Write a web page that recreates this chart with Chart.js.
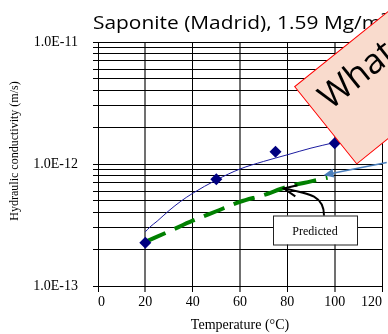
<!DOCTYPE html>
<html>
<head>
<meta charset="utf-8">
<script src="https://cdn.jsdelivr.net/npm/chart.js@4.4.1/dist/chart.umd.min.js"></script>
<style>
  html, body { margin: 0; padding: 0; background: #fff; }
  #wrap { width: 388px; height: 334px; }
</style>
</head>
<body>
<div id="wrap"><canvas id="myChart"></canvas></div>
<script>
// measured hydraulic conductivity (m/s)
const measuredTemps = [20, 50, 75, 100];
const measuredK = [2.26e-13, 7.5e-13, 1.26e-12, 1.48e-12];

// trend line through the measurements
const fitTemps = [20, 22, 25, 30, 35, 40, 50, 60, 70, 80, 90, 100];
const fitK = [2.78e-13, 3.05e-13, 3.4e-13, 4.15e-13, 4.95e-13, 5.75e-13, 7.4e-13, 9.1e-13, 1.05e-12, 1.19e-12, 1.35e-12, 1.5e-12];

// predicted curve
const predTemps = [20, 30, 40, 50, 60, 70, 80, 90, 97];
const predK = [2.3e-13, 2.8e-13, 3.43e-13, 4.1e-13, 4.9e-13, 5.57e-13, 6.5e-13, 7.2e-13, 7.72e-13];

// axes
const xTicks = [0, 20, 40, 60, 80, 100, 120];
const yDecades = [1e-13, 1e-12, 1e-11];
const yTickLabels = ['1.0E-13', '1.0E-12', '1.0E-11'];

const chartTitle = 'Saponite (Madrid), 1.59 Mg/m³';
const serif = '"Liberation Serif", "Times New Roman", serif';

const pts = (xs, ys) => xs.map((t, i) => ({ x: t, y: ys[i] }));

// text boxes and arrows drawn on top of the plot
const notesPlugin = {
    id: 'notes',
    afterDraw(chart) {
        const { ctx } = chart;
        const xs = chart.scales.x, ys = chart.scales.y;
        const px = (v) => xs.getPixelForValue(v);
        const py = (v) => ys.getPixelForValue(v);

        ctx.save();

        // chart title
        ctx.save();
        ctx.translate(93, 29);
        ctx.scale(1.1, 1);
        ctx.font = '19px "Open Sans"';
        ctx.fillStyle = '#000';
        ctx.textBaseline = 'alphabetic';
        ctx.textAlign = 'left';
        ctx.fillText(chartTitle, 0, 0);
        ctx.restore();

        // y axis title
        ctx.save();
        ctx.translate(15, 151);
        ctx.rotate(-Math.PI / 2);
        ctx.font = '12px ' + serif;
        ctx.fillStyle = '#000';
        ctx.textAlign = 'center';
        ctx.textBaseline = 'middle';
        ctx.fillText('Hydraulic conductivity (m/s)', 0, 0);
        ctx.restore();

        // "Predicted" label box
        const bx = Math.round(px(91.5)), by = Math.round(py(2.9e-13));
        const bw = 84, bh = 29;
        const left = bx - bw / 2, top = by - bh / 2;
        ctx.fillStyle = '#fff';
        ctx.fillRect(left, top, bw, bh);
        ctx.strokeStyle = '#222';
        ctx.lineWidth = 1;
        ctx.strokeRect(left + 0.5, top + 0.5, bw, bh);
        ctx.fillStyle = '#000';
        ctx.font = '12px ' + serif;
        ctx.textAlign = 'center';
        ctx.textBaseline = 'middle';
        ctx.fillText('Predicted', bx, by + 2);

        // curved black arrow from the box to the predicted line
        const sx = bx + 9, sy = top;
        const tx = px(78.5), ty = py(6.3e-13);
        const c2x = tx + 27, c2y = ty + 5;
        ctx.strokeStyle = '#000';
        ctx.lineWidth = 2;
        ctx.beginPath();
        ctx.moveTo(sx, sy);
        ctx.bezierCurveTo(sx, sy - 19, c2x, c2y, tx, ty);
        ctx.stroke();
        const ang = Math.atan2(c2y - ty, c2x - tx);
        ctx.beginPath();
        ctx.moveTo(tx + 14 * Math.cos(ang - 0.42), ty + 14 * Math.sin(ang - 0.42));
        ctx.lineTo(tx, ty);
        ctx.lineTo(tx + 14 * Math.cos(ang + 0.42), ty + 14 * Math.sin(ang + 0.42));
        ctx.stroke();

        // blue arrow coming in from the right
        const ax = px(95.3), ay = py(8.1e-13);
        const qx = px(122), qy = py(1.03e-12);
        const a2 = Math.atan2(qy - ay, qx - ax);
        ctx.strokeStyle = '#4a7ebb';
        ctx.fillStyle = '#4a7ebb';
        ctx.lineWidth = 1.5;
        ctx.beginPath();
        ctx.moveTo(qx, qy);
        ctx.lineTo(ax + 8 * Math.cos(a2), ay + 8 * Math.sin(a2));
        ctx.stroke();
        ctx.beginPath();
        ctx.moveTo(ax, ay);
        ctx.lineTo(ax + 10 * Math.cos(a2) - 4.5 * Math.sin(a2), ay + 10 * Math.sin(a2) + 4.5 * Math.cos(a2));
        ctx.lineTo(ax + 10 * Math.cos(a2) + 4.5 * Math.sin(a2), ay + 10 * Math.sin(a2) - 4.5 * Math.cos(a2));
        ctx.closePath();
        ctx.fill();

        // tilted "What" callout
        ctx.save();
        ctx.translate(294.7, 86.7);
        ctx.rotate(-38.8 * Math.PI / 180);
        ctx.fillStyle = '#f9dbcd';
        ctx.fillRect(0, 0, 230, 99);
        ctx.strokeStyle = '#ff0000';
        ctx.lineWidth = 1;
        ctx.strokeRect(0, 0, 230, 99);
        ctx.fillStyle = '#000';
        ctx.font = '35px "Open Sans"';
        ctx.textAlign = 'left';
        ctx.textBaseline = 'alphabetic';
        ctx.fillText('What', 13, 41);
        ctx.restore();

        ctx.restore();
    }
};

const ctx = document.getElementById('myChart');

const data = {
    datasets: [{
        label: 'Measured',
        data: pts(measuredTemps, measuredK),
        showLine: false,
        pointStyle: 'rectRot',
        pointRadius: 6,
        backgroundColor: '#000080',
        borderColor: '#000080',
        borderWidth: 0
    }, {
        label: 'Trend',
        data: pts(fitTemps, fitK),
        showLine: true,
        borderColor: '#1c1ca0',
        borderWidth: 1,
        pointRadius: 0,
        cubicInterpolationMode: 'monotone'
    }, {
        label: 'Predicted',
        data: pts(predTemps, predK),
        showLine: true,
        borderColor: '#008000',
        borderWidth: 4,
        borderDash: [22, 10],
        borderCapStyle: 'butt',
        pointRadius: 0,
        cubicInterpolationMode: 'monotone'
    }]
};

const config = {
    type: 'scatter',
    data: data,
    options: {
        responsive: true,
        maintainAspectRatio: false,
        animation: false,
        layout: {
            padding: { top: 42, right: 4, left: 0, bottom: 0 }
        },
        plugins: {
            legend: { display: false },
            tooltip: { enabled: false }
        },
        scales: {
            x: {
                type: 'linear',
                min: xTicks[0],
                max: xTicks[xTicks.length - 1],
                ticks: {
                    stepSize: 20,
                    color: '#000',
                    font: { family: serif, size: 14 },
                    padding: 2,
                    maxRotation: 0,
                    align: 'inner'
                },
                grid: {
                    color: (c) => (c.tick && [20, 60, 100].includes(c.tick.value)) ? '#707070' : '#000',
                    lineWidth: (c) => (c.tick && [20, 60, 100].includes(c.tick.value)) ? 2 : 1,
                    tickLength: 6
                },
                border: { color: '#000', width: 1 },
                title: {
                    display: true,
                    text: 'Temperature (°C)',
                    color: '#000',
                    font: { family: serif, size: 14 },
                    padding: { top: 2, bottom: 0 }
                },
                afterFit: (s) => { s.height = 48; s.paddingLeft = 0; s.paddingRight = 0; }
            },
            y: {
                type: 'logarithmic',
                min: yDecades[0],
                max: yDecades[yDecades.length - 1],
                afterBuildTicks: (s) => {
                    const t = [];
                    yDecades.forEach((d, i) => {
                        if (i === yDecades.length - 1) { t.push({ value: d }); return; }
                        for (let m = 1; m < 10; m++) t.push({ value: d * m });
                    });
                    s.ticks = t;
                },
                ticks: {
                    autoSkip: false,
                    color: '#000',
                    font: { family: serif, size: 14 },
                    padding: 15,
                    callback: (v) => {
                        const i = yDecades.findIndex(d => Math.abs(v / d - 1) < 1e-6);
                        return i >= 0 ? yTickLabels[i] : '';
                    }
                },
                grid: { color: '#000', lineWidth: 1, tickLength: 5 },
                border: { color: '#000', width: 1 },
                afterFit: (s) => { s.width = 98; }
            }
        }
    },
    plugins: [notesPlugin]
};

const myChart = new Chart(ctx, config);
</script>
</body>
</html>
